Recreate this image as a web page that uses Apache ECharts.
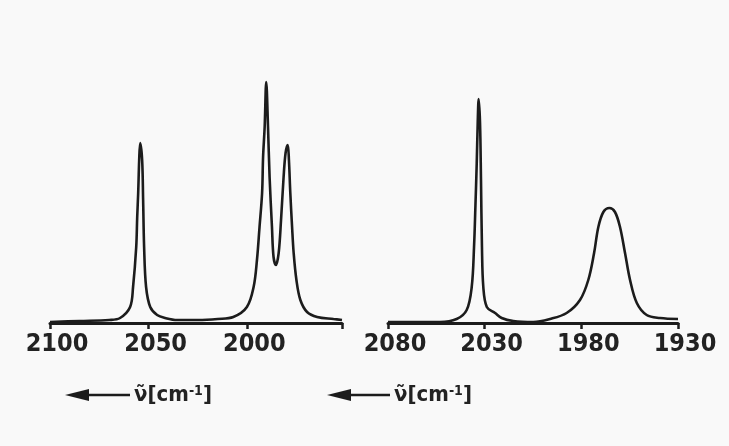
<!DOCTYPE html>
<html>
<head>
<meta charset="utf-8">
<script src="https://cdn.jsdelivr.net/npm/echarts@6/dist/echarts.min.js"></script>
<style>html,body{margin:0;padding:0;background:#f9f9f9;}#c{width:729px;height:446px;}</style>
</head>
<body>
<div id="c"></div>
<script>
// Left spectrum: [wavenumber cm-1, absorbance (arb.)]
var leftSpectrum = [
  [2100,1],[2085,2],[2070,3],[2064.5,5],[2059.4,16],[2057.9,36],[2056.3,76],[2055.8,106],[2055.3,130],[2054.8,163],[2054.3,180],
  [2053.3,163],[2052.8,123],[2052.3,76],[2051.3,36],[2049.2,16],[2045.7,8],[2041.6,5],[2035.5,3],[2025,3],[2015,4],
  [2007.1,6],[2000.2,16],[1996.8,36],[1995.1,63],[1993.8,96],[1992.5,130],[1992.0,166],[1991.2,196],[1990.4,241],
  [1989.5,196],[1988.7,146],[1987.5,96],[1986.7,66],[1985.5,58],[1984.1,70],[1982.9,103],[1981.6,146],[1980.6,170],[1979.5,178],
  [1978.9,163],[1978.2,130],[1977.3,96],[1976.5,70],[1975.1,43],[1973.1,23],[1969.7,11],[1964.6,6],[1956.3,4],[1952,3]
];
// Right spectrum
var rightSpectrum = [
  [2080,1],[2053.1,1],[2044.5,4],[2039.3,13],[2036.7,36],[2035.5,76],[2034.8,116],[2034.1,160],[2033.6,200],[2033.1,224],
  [2032.4,200],[2031.9,143],[2031.4,76],[2030.7,36],[2028.9,16],[2024.6,10],[2021.2,5],[2015.2,2],[2004.8,1],[1996.2,4],
  [1987.6,10],[1980.7,23],[1976.4,43],[1973.4,70],[1971.2,96],[1968.6,111],[1965.5,115],[1962.6,111],[1960.0,96],[1957.4,70],
  [1954.8,43],[1951.3,20],[1946.2,8],[1939.3,5],[1930,4]
];
var leftTicks = [2100, 2050, 2000];
var rightTicks = [2080, 2030, 1980, 1930];
var axisTitle = 'ν̃[cm';
var axisTitleSup = '-1';

var ink = '#1c1c1c';
var labelFont = {fontFamily: 'DejaVu Sans Condensed', fontWeight: 'bold', fontSize: 25, color: '#222', margin: 9, padding: [0,0,0,14],
  formatter: function (v) { return String(v); }};
function xAxis(idx, mn, mx, labels, ticks) {
  return {
    type: 'value', gridIndex: idx, inverse: true, min: mn, max: mx,
    axisLine: {show: true, lineStyle: {color: ink, width: 3}},
    axisTick: {show: true, length: 6, lineStyle: {color: ink, width: 2.5}, customValues: ticks},
    axisLabel: Object.assign({customValues: labels}, labelFont),
    splitLine: {show: false}
  };
}
function yAxis(idx) {
  return {type: 'value', gridIndex: idx, min: 0, max: 250, show: false, splitLine: {show: false}};
}
function arrowGroup(x0, x1, y, tx) {
  return [
    {type: 'line', shape: {x1: x0 + 20, y1: y, x2: x1, y2: y}, style: {stroke: ink, lineWidth: 2.5}},
    {type: 'polygon', shape: {points: [[x0, y], [x0 + 24, y - 6], [x0 + 24, y + 6]]}, style: {fill: ink}},
    {type: 'text', x: tx, y: y, style: {
      rich: {a: {fontFamily: 'DejaVu Sans Condensed', fontWeight: 'bold', fontSize: 22, fill: '#222'},
             s: {fontFamily: 'DejaVu Sans Condensed', fontWeight: 'bold', fontSize: 14, fill: '#222', verticalAlign: 'top', padding: [0,0,6,0]}},
      text: '{a|' + axisTitle + '}{s|' + axisTitleSup + '}{a|]}', verticalAlign: 'middle', align: 'left'}}
  ];
}
var chart = echarts.init(document.getElementById('c'));
chart.setOption({
  backgroundColor: '#f9f9f9',
  animation: false,
  grid: [
    {left: 50, width: 292, top: 73, height: 250},
    {left: 388, width: 290, top: 73, height: 250}
  ],
  xAxis: [
    xAxis(0, 1952, 2100, leftTicks, leftTicks.concat([1952])),
    xAxis(1, 1930, 2080, rightTicks, rightTicks)
  ],
  yAxis: [yAxis(0), yAxis(1)],
  series: [
    {type: 'line', xAxisIndex: 0, yAxisIndex: 0, data: leftSpectrum, showSymbol: false, smooth: 0.35,
     lineStyle: {color: ink, width: 2.6}},
    {type: 'line', xAxisIndex: 1, yAxisIndex: 1, data: rightSpectrum, showSymbol: false, smooth: 0.35,
     lineStyle: {color: ink, width: 2.6}}
  ],
  graphic: arrowGroup(65, 130, 395, 134).concat(arrowGroup(327, 390, 395, 394))
});
</script>
</body>
</html>
